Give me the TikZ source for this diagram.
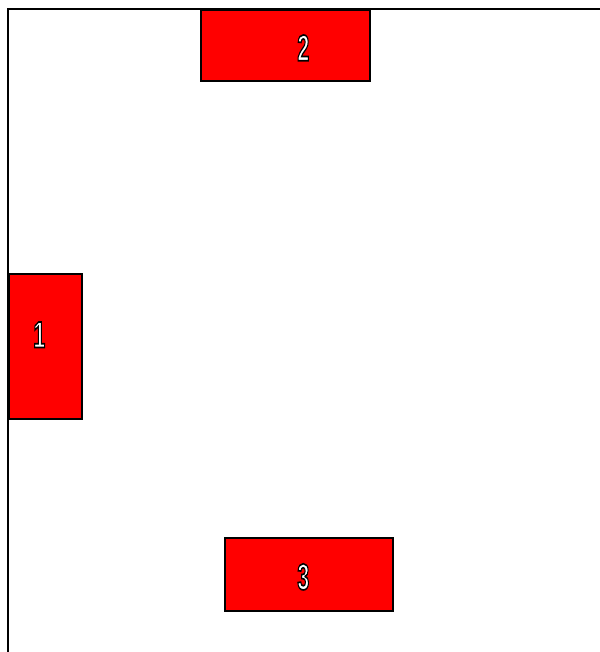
\documentclass[tikz,border=0pt]{standalone}
\usepackage{fontspec}
\setsansfont{Liberation Sans}
\usepackage{tikz}
\usetikzlibrary{positioning,calc}
\tikzset{
  wall/.style={line width=1.7pt,line cap=rect},
  blk/.style={draw,fill=red,line width=1.6pt,inner sep=0pt,anchor=north west},
  num/.style={font=\sffamily\bfseries\fontsize{37}{37}\selectfont,inner sep=0pt}
}
% hollow digits: white fill, black stroke
\newcommand{\bnum}[1]{\scalebox{0.58}[1]{\color{white}\special{pdf:literal direct 2 Tr 1.7 w 0 0 0 RG}#1\special{pdf:literal direct 0 Tr}}}

\begin{document}
\begin{tikzpicture}[x=1pt,y=-1pt]
\useasboundingbox (0,0) rectangle (599,652);
\coordinate (cn) at (8,9);
\coordinate (re) at (599,9);
\coordinate (bo) at (8,652);
\draw[wall] (re)--(cn)--(bo);
\node[blk,minimum width=169pt,minimum height=71pt] (b2) at (200,9) {};
\node[blk,minimum width=73pt,minimum height=145pt] (b1) at (8,273) {};
\node[blk,minimum width=168pt,minimum height=73pt] (b3) at (224,537) {};
\node[num] (n2) at ([xshift=18pt,yshift=-2.5pt]b2.center) {\bnum{2}};
\node[num] (n1) at ([xshift=-6pt,yshift=11.5pt]b1.center) {\bnum{1}};
\node[num] (n3) at ([xshift=-5.5pt,yshift=-2.5pt]b3.center) {\bnum{3}};
\end{tikzpicture}
\end{document}
